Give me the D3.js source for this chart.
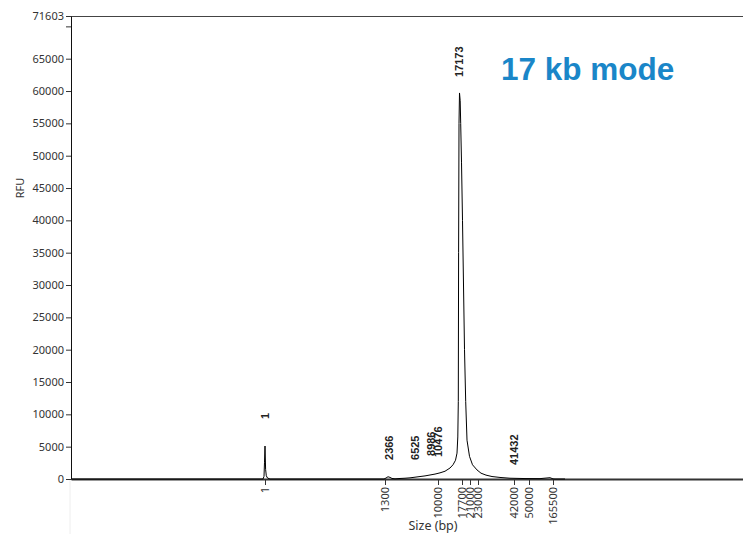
<!DOCTYPE html>
<html>
<head>
<meta charset="utf-8">
<script src="https://cdn.jsdelivr.net/npm/d3@7"></script>
<style>
  body { margin: 0; background: #fff; }
  svg { display: block; }
  .tick text { font-family: "Noto Sans", sans-serif; font-size: 11px; fill: #333; }
  .peak_lab { font-family: "Liberation Sans", Arial, sans-serif; font-size: 11px; font-weight: bold; fill: #222; }
</style>
</head>
<body>
<div id="chart"></div>
<script>
// migration time (scan units) of the sizing ladder and the size it stands for
const ladderTimes = [194, 314, 367, 391, 399, 407, 443, 458, 482];
const ladderSizes = ["1", "1300", "10000", "17700", "21000", "23000", "42000", "50000", "165500"];

// trace: migration time / RFU
const traceTime = [0, 192, 193, 193.5, 194, 194.6, 195.3, 196.5, 199,
  313, 315, 317, 319, 321, 324, 329, 334, 339, 344, 349, 354, 359, 364, 369, 374, 379, 382, 384.5,
  386, 386.8, 387.3, 387.6, 388, 388.5, 389.2, 389.7, 390.5, 391.5, 392.5, 393.5, 394.7, 396, 398.5, 401.5, 406, 410, 415, 421,
  429, 439, 454, 469, 479, 481, 482, 484, 489, 494, 672];
const traceRfu = [0, 0, 400, 2600, 5100, 1500, 500, 150, 0,
  0, 150, 350, 250, 80, 30, 80, 120, 180, 280, 380, 480, 620, 760, 950, 1200, 1700, 2200, 2900,
  4000, 6500, 12000, 35000, 55000, 59700, 58500, 55000, 49000, 40000, 30000, 20000, 12000, 6000, 3500, 2200, 1400, 900, 600,
  380, 240, 120, 70, 60, 200, 80, 20, 0, 0, 0];

// labelled peaks: text, time, RFU at which the label starts
const peakNames = ["1", "2366", "6525", "8986", "10476", "17173", "41432"];
const peakTimes = [194, 318, 344, 359.7, 367.5, 388.5, 443];
const peakLabRfu = [9280, 2940, 2940, 3560, 3400, 62170, 2165];

const yTicks = [0, 5000, 10000, 15000, 20000, 25000, 30000, 35000, 40000, 45000, 50000, 55000, 60000, 65000, 70000, 71603];
const yMax = 71603;

const W = 743, H = 534;
const m = {left: 71, right: 0, top: 16, bottom: 55};

const svg = d3.select("#chart").append("svg").attr("width", W).attr("height", H);

const x = d3.scaleLinear().domain([0, 672]).range([m.left, W - m.right]);
const y = d3.scaleLinear().domain([0, yMax]).range([H - m.bottom, m.top]);

// faint guide below the y axis
svg.append("line")
  .attr("x1", m.left - 1).attr("x2", m.left - 1)
  .attr("y1", y(0)).attr("y2", H)
  .attr("stroke", "#eee");

// top frame line
svg.append("line")
  .attr("x1", m.left).attr("x2", W)
  .attr("y1", y(yMax) + 0.5).attr("y2", y(yMax) + 0.5)
  .attr("stroke", "#444");

// y axis
const yAxis = svg.append("g")
  .attr("transform", `translate(${m.left},0)`)
  .call(d3.axisLeft(y).tickValues(yTicks).tickSize(5).tickSizeOuter(0)
    .tickFormat(d => d === 70000 ? "" : d));
yAxis.select(".domain").attr("stroke", "#111");
yAxis.selectAll(".tick line").attr("stroke", "#333");
yAxis.selectAll(".tick text").attr("x", -7);

// x axis
const xAxis = svg.append("g")
  .attr("transform", `translate(0,${y(0)})`)
  .call(d3.axisBottom(x).tickValues(ladderTimes).tickSize(6).tickSizeOuter(0)
    .tickFormat((d, i) => ladderSizes[i]));
xAxis.select(".domain").attr("stroke", "#333").attr("stroke-width", 2);
xAxis.selectAll(".tick line").attr("stroke", "#333");
xAxis.selectAll(".tick text")
  .attr("transform", "rotate(-90)")
  .attr("text-anchor", "end")
  .attr("x", -8).attr("y", 0).attr("dy", "0.35em");

// trace
const pts = traceTime.map((t, i) => [t, traceRfu[i]]);
svg.append("path")
  .datum(pts)
  .attr("fill", "none")
  .attr("stroke", "#000")
  .attr("stroke-width", 1)
  .attr("d", d3.line().x(d => x(d[0])).y(d => y(d[1])));

// peak labels
peakNames.forEach((name, i) => {
  const px = x(peakTimes[i]), py = y(peakLabRfu[i]);
  svg.append("text")
    .attr("class", "peak_lab")
    .attr("transform", `translate(${px},${py}) rotate(-90)`)
    .attr("dy", "0.35em")
    .text(name);
});

// axis titles
svg.append("text")
  .attr("transform", `translate(20,${y(45000)}) rotate(-90)`)
  .attr("text-anchor", "middle")
  .attr("dy", "0.35em")
  .style("font-family", "Noto Sans, sans-serif").style("font-size", "11px").style("fill", "#333")
  .text("RFU");

svg.append("text")
  .attr("x", x(362)).attr("y", H - 4)
  .attr("text-anchor", "middle")
  .style("font-family", "Noto Sans, sans-serif").style("font-size", "12.5px").style("fill", "#333")
  .text("Size (bp)");

svg.append("text")
  .attr("x", 501).attr("y", 80)
  .style("font-family", "Liberation Sans, Arial, sans-serif")
  .style("font-size", "31.5px").style("font-weight", "bold")
  .style("fill", "#1a86c8")
  .text("17 kb mode");
</script>
</body>
</html>
